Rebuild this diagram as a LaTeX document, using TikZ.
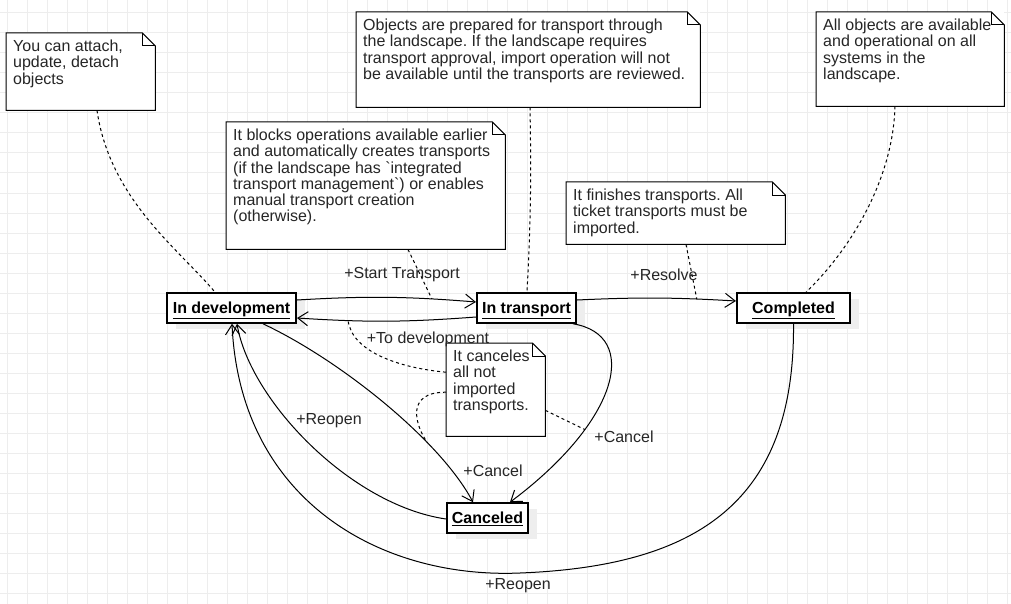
\documentclass[tikz,border=0pt]{standalone}
\usepackage{fontspec}
\setmainfont{Liberation Sans}
\usetikzlibrary{calc,arrows.meta,shadows}
\definecolor{gridcolor}{HTML}{EDEDED}
\definecolor{shadowcolor}{HTML}{EEEEEE}
\colorlet{textcolor}{black!85}
\frenchspacing
\newcommand{\notebody}[3]{% note text, fixed size
\begin{minipage}[t][#2][t]{#1}\fontsize{16}{16.2}\selectfont
#3
\end{minipage}}
\tikzstyle{umlstate} = [
    draw,
    line width=1.6pt,
    fill=white,
    minimum height=30pt,
    inner sep=0pt,
    text height=11.5pt,
    text depth=0pt,
    font=\fontsize{16}{16}\selectfont\bfseries,
    drop shadow={shadow xshift=9pt, shadow yshift=-6pt, fill=shadowcolor, opacity=1}
    ]
\tikzstyle{umlnote} = [
    fill=white,
    anchor=north west,
    inner sep=7pt,
    text=textcolor
    ]
\tikzstyle{noteline} = [line width=1pt]
\tikzstyle{trans} = [line width=1pt, -{Straight Barb[length=10pt,width=14pt]}]
\tikzstyle{anchorline} = [line width=1pt, dash pattern=on 3pt off 3pt]
\tikzstyle{edgelabel} = [text=textcolor, font=\fontsize{16}{16}\selectfont, inner sep=1pt]

\begin{document}
\begin{tikzpicture}[x=1pt, y=-1pt]
\useasboundingbox (0,0) rectangle (1011,604);
\fill[white] (0,0) rectangle (1011,604);
% grid
\foreach \gx in {7,27,...,1007} \draw[gridcolor, line width=1pt] (\gx,0) -- (\gx,604);
\foreach \gy in {13,33,...,593} \draw[gridcolor, line width=1pt] (0,\gy) -- (1011,\gy);

% states
\node[umlstate, minimum width=129.5pt] (dev) at (231.5,308) {\underline{In development}};
\node[umlstate, minimum width=99.5pt] (transport) at (526.5,308) {\underline{In transport}};
\node[umlstate, minimum width=113.5pt] (completed) at (793.5,308) {\underline{Completed}};
\node[umlstate, minimum width=81.5pt] (canceled) at (487.5,518) {\underline{Canceled}};

% notes
\node[umlnote] (devnote) at (6,33) {\notebody{135pt}{63pt}{You can attach,\\update, detach\\objects}};
\node[umlnote] (blocknote) at (226,122) {\notebody{265pt}{113pt}{It blocks operations available earlier\\
and automatically creates transports\\
(if the landscape has \textasciigrave integrated\\
transport management\textasciigrave) or enables\\
manual transport creation\\
(otherwise).}};
\node[umlnote] (preparenote) at (356,12) {\notebody{330pt}{81pt}{Objects are prepared for transport through\\
the landscape. If the landscape requires\\
transport approval, import operation will not\\
be available until the transports are reviewed.}};
\node[umlnote] (finishnote) at (566,182) {\notebody{205pt}{48pt}{It finishes transports. All\\ticket transports must be\\imported.}};
\node[umlnote] (allnote) at (816,12) {\notebody{174pt}{80pt}{All objects are available\\and operational on all\\systems in the\\landscape.}};
\node[umlnote] (cancelnote) at (446,343) {\notebody{85pt}{79pt}{It canceles\\all not\\imported\\transports.}};
\foreach \n in {devnote,blocknote,preparenote,finishnote,allnote,cancelnote}{
    \draw[noteline] (\n.north west) -- ($(\n.north east)+(-13,0)$) -- ($(\n.north east)+(0,13)$)
        -- (\n.south east) -- (\n.south west) -- cycle;
    \draw[noteline] ($(\n.north east)+(-13,0)$) -- ($(\n.north east)+(-13,13)$) -- ($(\n.north east)+(0,13)$);
}

% transitions
\draw[trans] ($(dev.east)+(0,-8)$) to[bend left=4] coordinate[pos=0.77] (starthook) ($(transport.west)+(0,-6)$);
\draw[trans] ($(transport.west)+(0,9)$) to[bend left=4] coordinate[pos=0.73] (devhook) ($(dev.east)+(0,10)$);
\draw[trans] ($(transport.east)+(0,-8)$) to[bend left=3] coordinate[pos=0.77] (resolvehook) ($(completed.west)+(0,-7)$);
\draw[trans] ($(dev.south)+(31.5,0)$) .. controls (340,360) and (440,440) .. ($(canceled.north)+(-14.5,0)$)
    coordinate[pos=0.7] (cancelhookA);
\draw[trans] ($(transport.south east)+(-4,0)$) .. controls (640,335) and (620,420) .. ($(canceled.north)+(22.5,0)$)
    coordinate[pos=0.7] (cancelhookB);
\draw[trans] ($(canceled.west)+(0,1)$) .. controls (350,505) and (250,400) .. ($(dev.south)+(5.5,0)$);
\coordinate (reopenlow) at (520,573);
\draw[trans] (completed.south) .. controls (795,500) and (700,566) .. (reopenlow)
    .. controls (380,579) and (240,500) .. ($(dev.south)+(0.5,0)$);

% note anchors
\draw[anchorline] ($(devnote.south west)+(91,0)$) .. controls (110,200) and (180,250) .. ($(dev.north)+(-16.5,0)$);
\draw[anchorline] ($(blocknote.south west)+(182,0)$) -- (starthook);
\draw[anchorline] ($(preparenote.south west)+(174,0)$) to[bend left=2] ($(transport.north)+(0.5,0)$);
\draw[anchorline] ($(finishnote.south west)+(120,0)$) -- (resolvehook);
\draw[anchorline] ($(allnote.south west)+(79,0)$) .. controls (893,180) and (850,250) .. ($(completed.north)+(12.5,0)$);
\draw[anchorline] ($(cancelnote.west)+(0,-17.5)$) .. controls (400,368) and (352,352) .. (devhook);
\draw[anchorline] ($(cancelnote.west)+(0,2.5)$) .. controls (405,392) and (415,425) .. (cancelhookA);
\draw[anchorline] ($(cancelnote.south east)+(0,-26)$) -- (cancelhookB);

% labels
\node[edgelabel] (startlabel) at (402,275) {+Start Transport};
\node[edgelabel] (todevlabel) at (428,339) {+To development};
\node[edgelabel] (resolvelabel) at (664,275) {+Resolve};
\node[edgelabel] (reopenlabel) at (329,421) {+Reopen};
\node[edgelabel] (cancellabel) at (493,471) {+Cancel};
\node[edgelabel] (cancellabelb) at (624,437) {+Cancel};
\node[edgelabel] (reopenlabelb) at (518,586) {+Reopen};
\end{tikzpicture}
\end{document}
